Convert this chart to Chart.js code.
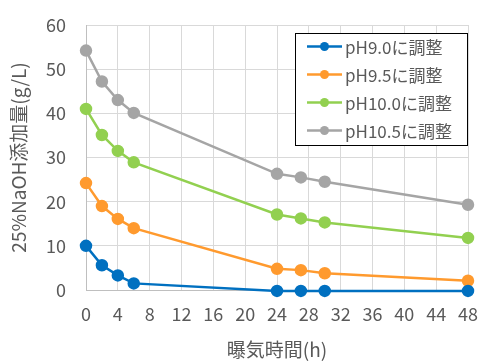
<!DOCTYPE html>
<html>
<head>
<meta charset="utf-8">
<script src="https://cdn.jsdelivr.net/npm/chart.js@4"></script>
<style>
  html, body { margin: 0; padding: 0; background: #fff; }
  #wrap { width: 478px; height: 361px; }
</style>
</head>
<body>
<div id="wrap"><canvas id="chart" width="478" height="361"></canvas></div>
<script>
// 曝気時間 (h)
const hours = [0, 2, 4, 6, 24, 27, 30, 48];
const seriesLabels = ["pH9.0に調整", "pH9.5に調整", "pH10.0に調整", "pH10.5に調整"];
const ph90 = [10.0, 5.6, 3.3, 1.5, -0.2, -0.2, -0.2, -0.2];
const ph95 = [24.2, 19.0, 16.1, 14.0, 4.8, 4.5, 3.8, 2.1];
const ph100 = [41.0, 35.1, 31.5, 28.9, 17.1, 16.2, 15.3, 11.8];
const ph105 = [54.2, 47.2, 43.0, 40.1, 26.3, 25.5, 24.5, 19.3];
const colors = ["#0070C0", "#FF9A2E", "#92D050", "#A5A5A5"];

const FONT = "'Noto Sans CJK JP', 'Noto Sans', sans-serif";
const TXT = "#595959";

function pts(vals) {
    return hours.map((h, i) => ({ x: h, y: vals[i] }));
}

const datasets = [ph90, ph95, ph100, ph105].map((vals, i) => ({
    label: seriesLabels[i],
    data: pts(vals),
    borderColor: colors[i],
    backgroundColor: colors[i],
    borderWidth: 2.5,
    pointRadius: 5,
    pointHoverRadius: 5,
    tension: 0,
    clip: false,
}));

// 凡例（プロット内の枠付き）
const boxLegend = {
    id: "boxLegend",
    afterDraw(chart) {
        const ctx = chart.ctx;
        const x0 = 295, y0 = 33, w = 172, h = 112;
        ctx.save();
        ctx.fillStyle = "#fff";
        ctx.fillRect(x0, y0, w, h);
        ctx.strokeStyle = "#000";
        ctx.lineWidth = 1;
        ctx.strokeRect(x0 + 0.5, y0 + 0.5, w, h);
        ctx.font = "17px " + FONT;
        ctx.textBaseline = "middle";
        chart.data.datasets.forEach((ds, i) => {
            const cy = y0 + 13.5 + i * 28;
            ctx.strokeStyle = ds.borderColor;
            ctx.lineWidth = 2.5;
            ctx.beginPath();
            ctx.moveTo(307, cy);
            ctx.lineTo(342, cy);
            ctx.stroke();
            ctx.fillStyle = ds.borderColor;
            ctx.beginPath();
            ctx.arc(324.5, cy, 4.5, 0, Math.PI * 2);
            ctx.fill();
            ctx.fillStyle = TXT;
            ctx.fillText(ds.label, 345, cy + 1);
        });
        ctx.restore();
    }
};

new Chart(document.getElementById("chart").getContext("2d"), {
    type: "line",
    data: { datasets: datasets },
    plugins: [boxLegend],
    options: {
        responsive: false,
        animation: false,
        layout: { padding: { top: 25, right: 10, left: 5, bottom: 0 } },
        plugins: {
            legend: { display: false },
            tooltip: { enabled: false },
        },
        scales: {
            x: {
                type: "linear",
                min: 0,
                max: 48,
                ticks: { stepSize: 4, color: TXT, font: { family: FONT, size: 18 }, padding: 13, maxRotation: 0 },
                grid: { color: "#D9D9D9", lineWidth: 1, drawTicks: false },
                border: { color: "#BFBFBF" },
                title: { display: true, text: "曝気時間(h)", color: TXT, font: { family: FONT, size: 19 }, padding: { top: 4, bottom: 0 } },
                afterFit(s) { s.height = 71; s.paddingLeft = 0; s.paddingRight = 0; },
            },
            y: {
                min: 0,
                max: 60,
                ticks: { stepSize: 10, color: TXT, font: { family: FONT, size: 18 }, padding: 20 },
                grid: { color: "#D9D9D9", lineWidth: 1, drawTicks: false },
                border: { color: "#BFBFBF" },
                title: { display: true, text: "25%NaOH添加量(g/L)", color: TXT, font: { family: FONT, size: 19 }, padding: { top: 2, bottom: 4 } },
                afterFit(s) { s.width = 81; s.paddingTop = 0; s.paddingBottom = 0; },
            },
        },
    },
});
</script>
</body>
</html>
